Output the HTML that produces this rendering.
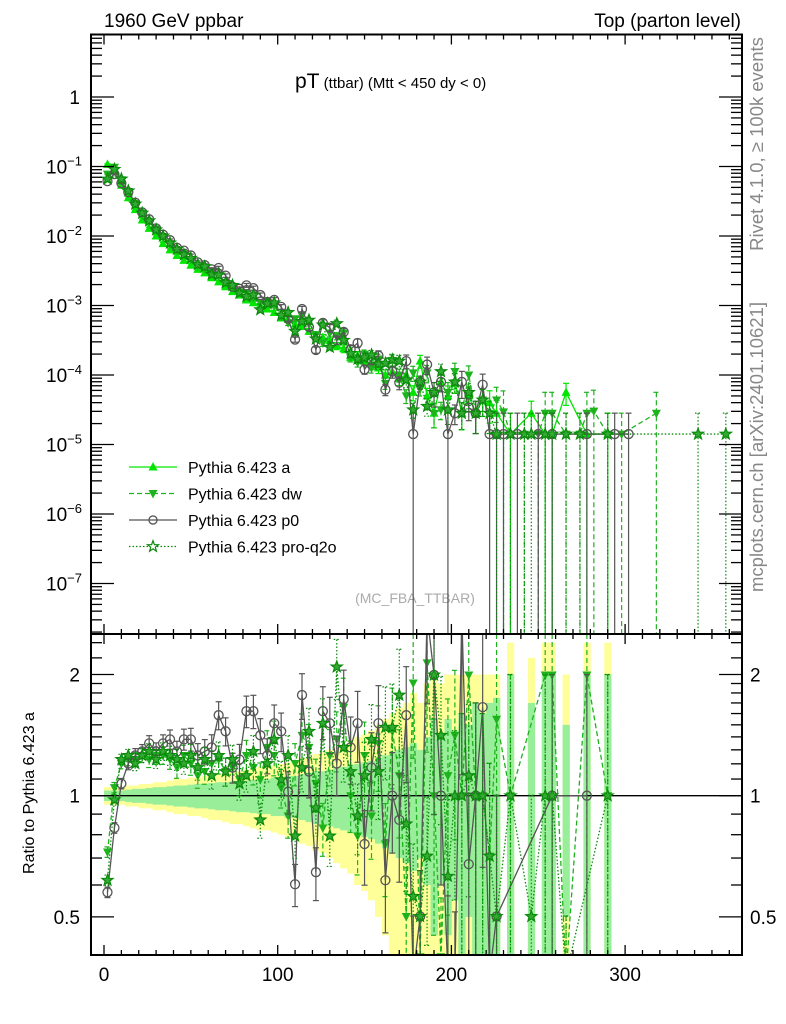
<!DOCTYPE html>
<html><head><meta charset="utf-8">
<style>
html,body{margin:0;padding:0;background:#fff;width:786px;height:1024px;overflow:hidden;}
svg{display:block;font-family:"Liberation Sans",Arial,sans-serif;}
</style></head>
<body>
<svg id="chart" width="786" height="1024" viewBox="0 0 786 1024">
  <defs>
    <clipPath id="clipMain"><rect x="91" y="34.5" width="651" height="599.5"/></clipPath>
    <clipPath id="clipRatio"><rect x="91" y="634" width="651" height="321"/></clipPath>
  </defs>
  <text x="104" y="27" font-size="19">1960 GeV ppbar</text>
  <text x="741" y="27" font-size="19" text-anchor="end">Top (parton level)</text>
  <text x="295" y="88"><tspan font-size="21">pT</tspan><tspan font-size="15"> (ttbar) (Mtt &lt; 450 dy &lt; 0)</tspan></text>
  <text x="415" y="603" font-size="14" fill="#aaa" text-anchor="middle">(MC_FBA_TTBAR)</text>
  <text transform="translate(763,144) rotate(-90)" font-size="18.5" fill="#888" text-anchor="middle">Rivet 4.1.0, ≥ 100k events</text>
  <text transform="translate(763,447) rotate(-90)" font-size="18.5" fill="#888" text-anchor="middle">mcplots.cern.ch [arXiv:2401.10621]</text>
  <text transform="translate(34,793) rotate(-90)" font-size="16" text-anchor="middle">Ratio to Pythia 6.423 a</text>
  <g id="bands" clip-path="url(#clipRatio)"></g>
  <g id="ratioSeries" clip-path="url(#clipRatio)"></g>
  <g id="mainSeries" clip-path="url(#clipMain)"></g>
  <g id="axes"></g>
  <g id="legend"></g>
</svg>
<script>
const centers=[2,6,10,14,18,22,26,30,34,38,42,46,50,54,58,62,66,70,74,78,82,86,90,94,98,102,106,110,114,118,122,126,130,134,138,142,146,150,154,158,162,166,170,174,178,182,186,190,194,198,202,206,210,214,218,222,226,230,234,238,242,246,250,254,258,262,266,270,274,278,282,286,290,294,298,302,306,310,314,318,322,326,330,334,338,342,346,350,354,358];
const N=null;
const seriesA=[-0.97,-1.03,-1.27,-1.45,-1.62,-1.77,-1.89,-2.00,-2.11,-2.20,
-2.28,-2.35,-2.42,-2.48,-2.53,-2.60,-2.66,-2.73,-2.80,-2.85,
-2.92,-2.96,-3.00,-3.05,-3.10,-3.18,-3.20,-3.27,-3.30,-3.37,
-3.45,-3.46,-3.50,-3.58,-3.62,-3.75,-3.72,-3.80,-3.85,-3.90,
-4.00,-3.95,-4.05,-4.00,-4.25,-3.80,-4.30,-4.55,-4.10,-4.30,
-4.10,-4.55,-4.30,-4.55,-4.36,-4.40,-4.55,N,-4.85,N,
N,-4.55,N,-4.85,-4.85,N,-4.25,N,N,-4.85,
N,N,-4.85,N,N,N,N,N,N,N,
N,N,N,N,N,N,N,N,N,N];
const seriesDW=[-1.11,-1.01,-1.19,-1.36,-1.53,-1.67,-1.80,-1.90,-2.01,-2.11,
-2.21,-2.25,-2.34,-2.43,-2.47,-2.52,-2.57,-2.67,-2.73,-2.81,
-2.82,-2.89,-2.96,-2.93,-3.00,-3.16,-3.25,-3.19,-3.15,-3.25,
-3.42,-3.54,-3.40,-3.44,-3.40,-3.75,-3.82,-3.70,-3.90,-3.77,
-4.12,-3.79,-4.00,-4.30,-3.97,-4.20,-3.97,-4.55,-4.50,-4.25,
-3.95,-4.55,-4.00,-4.55,-4.36,-4.55,-4.36,-4.53,-4.85,N,
-4.85,N,-4.85,-4.55,-4.55,N,-4.85,N,-4.85,-4.55,
-4.52,N,-4.85,N,-4.85,N,N,N,N,-4.55,
N,N,N,N,N,N,N,N,N,N];
const seriesP0=[-1.21,-1.11,-1.24,-1.37,-1.52,-1.66,-1.76,-1.89,-1.98,-2.06,
-2.17,-2.21,-2.28,-2.38,-2.42,-2.48,-2.46,-2.57,-2.73,-2.76,
-2.71,-2.75,-2.85,-2.95,-2.92,-3.02,-3.19,-3.49,-3.05,-3.31,
-3.64,-3.25,-3.32,-3.50,-3.38,-3.63,-3.54,-3.92,-3.78,-3.72,
-4.21,-3.95,-4.11,-3.80,-4.85,-4.10,-3.85,-4.25,-4.10,-4.85,
-4.55,-4.10,-4.47,-4.55,-4.14,-4.85,-4.85,-4.85,N,-4.85,
N,N,-4.85,N,-4.85,N,N,N,N,-4.85,
N,N,N,-4.85,N,-4.85,N,N,N,N,
N,N,N,N,N,N,N,N,N,N];
const seriesQ2O=[-1.18,-1.04,-1.18,-1.35,-1.54,-1.67,-1.78,-1.91,-2.00,-2.10,
-2.19,-2.27,-2.32,-2.41,-2.44,-2.55,-2.56,-2.67,-2.71,-2.82,
-2.87,-2.85,-3.06,-2.97,-2.96,-3.14,-3.10,-3.37,-3.23,-3.21,
-3.48,-3.28,-3.60,-3.26,-3.50,-3.69,-3.77,-3.75,-3.71,-3.84,
-3.83,-3.78,-3.80,-4.07,-4.50,-4.10,-4.45,-4.25,-3.95,-4.50,
-4.10,-4.55,-4.25,-4.55,-4.36,-4.55,-4.85,N,-4.85,N,
-4.85,-4.85,N,-4.85,-4.85,N,-4.85,N,-4.85,N,
N,N,-4.85,N,N,N,N,N,N,N,
N,N,N,N,N,-4.85,N,N,N,-4.85];
const statErr=[0.03,0.03,0.03,0.035,0.04,0.04,0.045,0.05,0.05,0.055,
0.06,0.06,0.065,0.07,0.07,0.075,0.08,0.08,0.085,0.09,
0.09,0.095,0.10,0.10,0.11,0.11,0.12,0.12,0.13,0.14,
0.15,0.15,0.16,0.17,0.18,0.19,0.20,0.21,0.22,0.24,
0.26,0.28,0.30,0.32,0.35,0.30,0.40,0.55,0.40,0.55,
0.45,0.60,0.50,0.70,0.60,0.70,0.75,N,1.0,N,
N,0.7,N,1.0,1.0,N,0.5,N,N,1.0,
N,N,1.0,N,N,N,N,N,N,N,
N,N,N,N,N,N,N,N,N,N];
const totErr=[0.05,0.05,0.05,0.06,0.06,0.07,0.07,0.08,0.08,0.09,
0.10,0.10,0.11,0.11,0.12,0.13,0.13,0.14,0.15,0.15,
0.16,0.17,0.18,0.18,0.19,0.20,0.21,0.22,0.24,0.25,
0.27,0.28,0.30,0.32,0.34,0.36,0.40,0.42,0.45,0.50,
0.55,0.60,0.65,0.70,0.80,0.70,0.90,1.0,0.90,1.0,
1.0,1.0,1.0,1.0,1.0,1.0,1.0,N,1.4,N,
N,1.2,N,1.4,1.4,N,1.0,N,N,1.4,
N,N,1.4,N,N,N,N,N,N,N,
N,N,N,N,N,N,N,N,N,N];
const xTicksMajor=[0,100,200,300];
const yDecades=[0,-1,-2,-3,-4,-5,-6,-7];
const ratioTicksMajor=[0.5,1,2];

const NS="http://www.w3.org/2000/svg";
const X=v=>104+v*1.737;
const YM=l=>97-l*69.5;
const YR=r=>795.7-Math.log10(r)*402.5;
function mk(tag,attrs,parent){const e=document.createElementNS(NS,tag);for(const k in attrs)e.setAttribute(k,attrs[k]);parent.appendChild(e);return e;}
const bands=document.getElementById('bands'),ratioG=document.getElementById('ratioSeries'),mainG=document.getElementById('mainSeries'),axes=document.getElementById('axes'),legend=document.getElementById('legend');

[[totErr,'#ffff99','band-total'],[statErr,'#99ee99','band-stat']].forEach(([arr,col,nm])=>{
  arr.forEach((e,i)=>{ if(e==null) return;
    const top=Math.max(YR(1+e),634);
    const bot=1-e>0.4?YR(1-e):955;
    const r=mk('rect',{x:X(centers[i]-2),y:top,width:X(centers[i]+2)-X(centers[i]-2)+0.3,height:bot-top,fill:col},bands);
    
    
  });
});
const unity=mk('line',{x1:91,x2:742,y1:YR(1),y2:YR(1),stroke:'#000','stroke-width':1.3},ratioG);



const styles=[
 {name:'pythia-a',data:seriesA,col:'#00e600',dash:'',marker:'tu',lw:1.3},
 {name:'pythia-dw',data:seriesDW,col:'#1db31d',dash:'5,3',marker:'td',lw:1.3},
 {name:'pythia-p0',data:seriesP0,col:'#555555',dash:'',marker:'circ',lw:1.3},
 {name:'pythia-pro-q2o',data:seriesQ2O,col:'#0a8a0a',dash:'1.5,2',marker:'star',lw:1.3}
];
function marker(type,x,y,col,parent,s){
  s=s||1;
  let e;
  if(type==='tu') e=mk('polygon',{points:`${x},${y-5*s} ${x-4.5*s},${y+3.5*s} ${x+4.5*s},${y+3.5*s}`,fill:col},parent);
  else if(type==='td') e=mk('polygon',{points:`${x},${y+5*s} ${x-4.5*s},${y-3.5*s} ${x+4.5*s},${y-3.5*s}`,fill:col},parent);
  else if(type==='circ') e=mk('circle',{cx:x,cy:y,r:4.5*s,fill:'none',stroke:col,'stroke-width':1.3},parent);
  else { let p=[];for(let k=0;k<10;k++){const a=-Math.PI/2+k*Math.PI/5,r=(k%2?2.4:5.8)*s;p.push((x+r*Math.cos(a)).toFixed(1)+','+(y+r*Math.sin(a)).toFixed(1));}
    e=mk('polygon',{points:p.join(' '),fill:'#33aa33',stroke:col,'stroke-width':1.2},parent);}
  return e;
}
function clampY(y,lo,hi){return Math.min(hi,Math.max(lo,y));}
function drawSeries(st,parent,valFn,yFn,yLo,yHi,panel){
  const pts=[];
  st.data.forEach((v,i)=>{const r=valFn(v,i); if(r!=null) pts.push([i,r]);});
  const pl=mk('polyline',{points:pts.map(([i,r])=>X(centers[i])+','+clampY(yFn(r),yLo-20,yHi+20)).join(' '),fill:'none',stroke:st.col,'stroke-width':st.lw,'stroke-dasharray':st.dash},parent);
  
  
  pts.forEach(([i,r])=>{
    let e=statErr[i]; if(e==null||st.data[i]<=-4.84) e=1.0;
    if(panel==='main' && e<0.9) e=e*0.7;
    const x=X(centers[i]);
    const yTop=clampY(yFn(panel==='main'?r+Math.log10(1+e):r*(1+e)),yLo,yHi);
    const yBot=(1-e)>0.02?clampY(yFn(panel==='main'?r+Math.log10(1-e):r*(1-e)),yLo,yHi):yHi;
    const eb=mk('g',{stroke:st.col,'stroke-width':1.2,'stroke-dasharray':st.dash},parent);
    
    
    mk('line',{x1:x,x2:x,y1:yTop,y2:yBot},eb);
    mk('line',{x1:x-3,x2:x+3,y1:yTop,y2:yTop,'stroke-dasharray':''},eb);
    mk('line',{x1:x-3,x2:x+3,y1:yBot,y2:yBot,'stroke-dasharray':''},eb);
    const yc=yFn(r);
    if(yc>yLo-8 && yc<yHi+8){
      const m=marker(st.marker,x,yc,st.col,parent);
      
      
    }
  });
}
styles.forEach(st=>drawSeries(st,mainG,(v)=>v,YM,34.5,634,'main'));
styles.slice(1).forEach(st=>drawSeries(st,ratioG,(v,i)=>(v==null||seriesA[i]==null)?null:Math.pow(10,v-seriesA[i]),YR,634,955,'ratio'));

[[91,34.5,651,599.5,'main-frame'],[91,634,651,321,'ratio-frame']].forEach(([x,y,w,h,n])=>{
  const r=mk('rect',{x:x,y:y,width:w,height:h,fill:'none',stroke:'#000','stroke-width':2},axes);
  
  
});
for(let v=0;v<=360;v+=10){
  const x=X(v),maj=xTicksMajor.includes(v),L=maj?10:5;
  [[34.5,1],[634,-1],[634,1],[955,-1]].forEach(([y,d])=>mk('line',{x1:x,x2:x,y1:y,y2:y+d*L,stroke:'#000','stroke-width':1.3},axes));
}
xTicksMajor.forEach(v=>{const t=mk('text',{x:X(v),y:981,'font-size':19,'text-anchor':'middle'},axes);t.textContent=v;
  
  });
for(let d=1;d>=-8;d--){for(let m=1;m<=9;m++){const l=d+Math.log10(m);const y=YM(l);if(y<34.5||y>634)continue;
  const L=m===1?23:11;
  mk('line',{x1:91,x2:91+L,y1:y,y2:y,stroke:'#000','stroke-width':1.3},axes);
  mk('line',{x1:742,x2:742-L,y1:y,y2:y,stroke:'#000','stroke-width':1.3},axes);}}
yDecades.forEach(d=>{const y=YM(d);
  const t=mk('text',{x:d===0?80:82,y:y+7,'font-size':19,'text-anchor':'end'},axes);
  if(d===0) t.textContent='1';
  else{t.textContent='10';const s=mk('tspan',{dy:-8,'font-size':13},t);s.textContent='−'+(-d);}
  
  });
[0.5,0.6,0.7,0.8,0.9,1,1.1,1.2,1.3,1.4,1.5,1.6,1.7,1.8,1.9,2,2.2,2.4].forEach(r=>{const y=YR(r);if(y<634||y>955)return;
  const L=ratioTicksMajor.includes(r)?23:11;
  mk('line',{x1:91,x2:91+L,y1:y,y2:y,stroke:'#000','stroke-width':1.3},axes);
  mk('line',{x1:742,x2:742-L,y1:y,y2:y,stroke:'#000','stroke-width':1.3},axes);});
ratioTicksMajor.forEach(r=>{const y=YR(r);
  const t=mk('text',{x:80,y:y+7,'font-size':19,'text-anchor':'end'},axes);t.textContent=r;
  
  
  const t2=mk('text',{x:750,y:y+7,'font-size':19},axes);t2.textContent=r;
  
  });
const legLabels=['Pythia 6.423 a','Pythia 6.423 dw','Pythia 6.423 p0','Pythia 6.423 pro-q2o'];
styles.forEach((st,k)=>{const y=467+k*26.5;
  const g=mk('g',{},legend);
  
  
  mk('line',{x1:129,x2:177,y1:y,y2:y,stroke:st.col,'stroke-width':1.3,'stroke-dasharray':st.dash},g);
  const m=marker(st.marker,153,y,st.col,g,st.marker==='circ'?0.9:1);
  if(st.marker==='star') m.setAttribute('fill','#fff');
  const t=mk('text',{x:188,y:y+6,'font-size':16},g);t.textContent=legLabels[k];
});
</script>
</body></html>
